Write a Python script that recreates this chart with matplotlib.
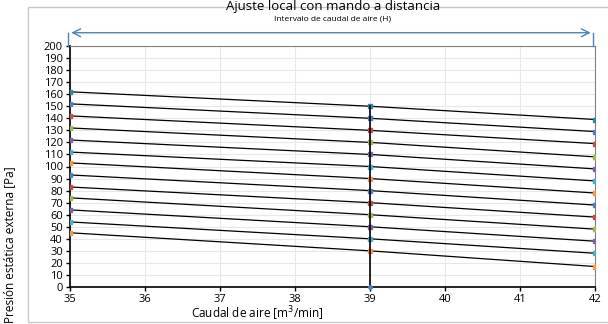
import numpy as np
import matplotlib.pyplot as plt
from matplotlib.patches import Rectangle

plt.rcParams['font.family'] = ['Open Sans', 'DejaVu Sans']

caudal = [35, 39, 42]
# presion estatica en cada caudal, una fila por curva
p_izq = [162, 152, 142, 132, 122, 112, 103, 93, 83, 74, 64, 54, 45]
p_med = [150, 140, 130, 120, 110, 100, 90, 80, 70, 60, 50, 40, 30]
p_der = [139, 129, 119, 108, 98, 88, 78, 68, 58, 48, 38, 28, 17]
marker_cols = ['#31859C', '#4F81BD', '#C0504D', '#9BBB59', '#8064A2', '#4BACC6', '#F79646',
               '#4F81BD', '#C0504D', '#9BBB59', '#8064A2', '#4BACC6', '#F79646']
linea_v_x = [39, 39]
linea_v_y = [0, 150]

fig = plt.figure(figsize=(6.08, 3.24), dpi=100)
ax = fig.add_axes([70/608, 1-287/324, 525/608, 241/324])

for a, b, c, col in zip(p_izq, p_med, p_der, marker_cols):
    ax.plot(caudal, [a, b, c], color='black', lw=0.9, marker='s', ms=2.2,
            mfc=col, mec=col, zorder=3)
ax.plot(linea_v_x, linea_v_y, color='black', lw=1.2, marker='o', ms=2.5,
        mfc='#4F81BD', mec='#4F81BD', markevery=[0], zorder=3, clip_on=False)

ax.set_xlim(35, 42)
ax.set_ylim(0, 200)
ax.set_xticks(range(35, 43))
ax.set_yticks(range(0, 201, 10))
ax.grid(True, color='#E8E8E8', lw=0.8)
ax.set_axisbelow(True)
ax.tick_params(labelsize=8, length=3, width=1, pad=2)
for s in ['left', 'bottom']:
    ax.spines[s].set_linewidth(1.2)
    ax.spines[s].set_color('black')
for s in ['top', 'right']:
    ax.spines[s].set_color('#808080')
    ax.spines[s].set_linewidth(0.8)

# flecha del intervalo
ax.annotate('', xy=(34.98, 211), xytext=(41.98, 211), xycoords='data',
            arrowprops=dict(arrowstyle='<->', color='#4F81BD', lw=1, mutation_scale=14),
            annotation_clip=False)
ax.plot([34.98, 34.98], [200, 211], color='#4F81BD', lw=1, clip_on=False)
ax.plot([41.98, 41.98], [200, 211], color='#4F81BD', lw=1, clip_on=False)
fig.text(333/608, 1-19/324, 'Intervalo de caudal de aire (H)', fontsize=6,
         ha='center', va='center')

fig.text(333/608, 1.0, 'Ajuste local con mando a distancia', fontsize=9.5,
         ha='center', va='top')
fig.text(257/608, 1-314/324, 'Caudal de aire [m$^3$/min]', fontsize=8.5,
         ha='center', va='center')
fig.text(10/608, 1-245/324, 'Presión estática externa [Pa]', fontsize=8.5,
         rotation=90, ha='center', va='center')

fig.patches.append(Rectangle((28/608, 1-322/324), 1.0, 315/324, transform=fig.transFigure,
                             fill=False, edgecolor='#C8C8C8', lw=1))

fig.savefig('out.png', dpi=100)
